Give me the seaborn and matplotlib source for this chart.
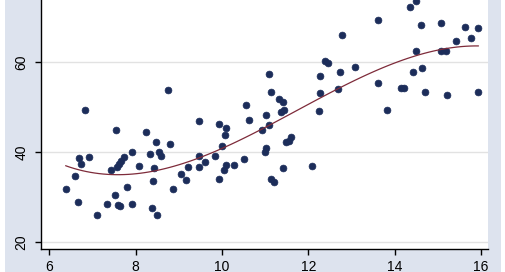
import numpy as np
import pandas as pd
import matplotlib
matplotlib.use("Agg")
import matplotlib.pyplot as plt
from matplotlib.patches import Rectangle
import seaborn as sns

x_vals = [6.38, 6.59, 6.67, 6.69, 6.73, 6.84, 6.92, 7.11, 7.33, 7.42,
          7.52, 7.54, 7.57, 7.62, 7.66, 7.59, 7.64, 7.74, 7.81, 7.92,
          7.92, 8.09, 8.24, 8.33, 8.38, 8.41, 8.43, 8.48, 8.50, 8.55,
          8.60, 8.75, 8.79, 8.87, 9.06, 9.16, 9.22, 9.46, 9.46, 9.47,
          9.61, 9.84, 9.93, 9.93, 10.00, 10.04, 10.06, 10.09, 10.09, 10.29,
          10.51, 10.56, 10.63, 10.92, 11.02, 11.00, 11.02, 11.09, 11.09, 11.13,
          11.13, 11.20, 11.32, 11.41, 11.36, 11.43, 11.42, 11.48, 11.56, 11.59,
          12.08, 12.26, 12.26, 12.25, 12.38, 12.45, 12.69, 12.74, 12.78, 13.09,
          13.61, 13.61, 13.82, 14.14, 14.21, 14.35, 14.49, 14.43, 14.50, 14.61,
          14.63, 14.70, 15.07, 15.07, 15.19, 15.21, 15.42, 15.62, 15.76, 15.94,
          15.93]
y_vals = [31.84, 34.73, 28.82, 38.71, 37.27, 49.33, 38.96, 25.93, 28.44, 36.11,
          30.51, 44.89, 36.67, 37.44, 38.00, 28.22, 27.93, 38.89, 32.22, 40.00,
          28.51, 36.96, 44.49, 39.49, 27.56, 33.51, 36.56, 42.16, 26.07, 39.96,
          39.22, 53.78, 41.71, 31.89, 35.18, 33.82, 36.67, 46.96, 39.11, 36.67,
          37.89, 39.18, 46.27, 33.93, 41.33, 35.93, 43.89, 45.29, 37.18, 37.04,
          38.44, 50.40, 47.07, 44.84, 40.84, 39.96, 48.33, 57.29, 45.93, 53.29,
          33.96, 33.33, 51.89, 51.22, 48.82, 49.29, 36.40, 42.18, 42.44, 43.29,
          36.89, 56.89, 53.18, 49.07, 60.18, 59.78, 54.04, 57.78, 66.07, 58.82,
          69.33, 55.40, 49.27, 54.22, 54.16, 72.29, 73.60, 57.84, 62.44, 68.22,
          58.60, 53.33, 68.73, 62.51, 62.38, 52.73, 64.73, 67.84, 65.40, 67.56,
          53.33]

x_ticks = [6, 8, 10, 12, 14, 16]
y_ticks = [20, 40, 60]

df = pd.DataFrame({"x": x_vals, "y": y_vals})

sns.set_style("white")
plt.rcParams["font.family"] = ["Liberation Sans", "DejaVu Sans"]

fig = plt.figure(figsize=(5.05, 2.72), dpi=100)
fig.patch.set_facecolor("white")
fig.patches.append(Rectangle((5 / 505, 0), 496 / 505, 1, transform=fig.transFigure,
                             facecolor="#dde3ee", edgecolor="none", zorder=-10))
ax = fig.add_axes([41 / 505, 23 / 272, 447 / 505, 249 / 272])
ax.set_facecolor("white")

sns.regplot(data=df, x="x", y="y", order=3, ci=None, ax=ax,
            scatter_kws=dict(s=24, color="#1c2d5a", edgecolor="#1c2d5a", linewidths=0.5, alpha=1, zorder=3),
            line_kws=dict(color="#7e2b3a", lw=0.9, zorder=4))

ax.set_xlim(5.81, 16.16)
ax.set_ylim(18.45, 73.8)
ax.set_xticks(x_ticks)
ax.set_yticks(y_ticks)
ax.set_xticklabels([str(t) for t in x_ticks])
ax.set_yticklabels([str(t) for t in y_ticks], rotation=90, va="center")
ax.set_xlabel("")
ax.set_ylabel("")
ax.grid(axis="y", color="#e2e2e2", lw=1)
ax.grid(axis="x", visible=False)
ax.set_axisbelow(True)
for s in ["top", "right"]:
    ax.spines[s].set_visible(False)
for s in ["left", "bottom"]:
    ax.spines[s].set_color("black")
    ax.spines[s].set_linewidth(1)
ax.tick_params(axis="both", which="major", direction="out", length=4, width=1,
               color="black", labelsize=10, labelcolor="black", bottom=True, left=True)
ax.tick_params(axis="x", pad=4)
ax.tick_params(axis="y", pad=5)

fig.savefig("out.png", dpi=100, facecolor=fig.get_facecolor())
